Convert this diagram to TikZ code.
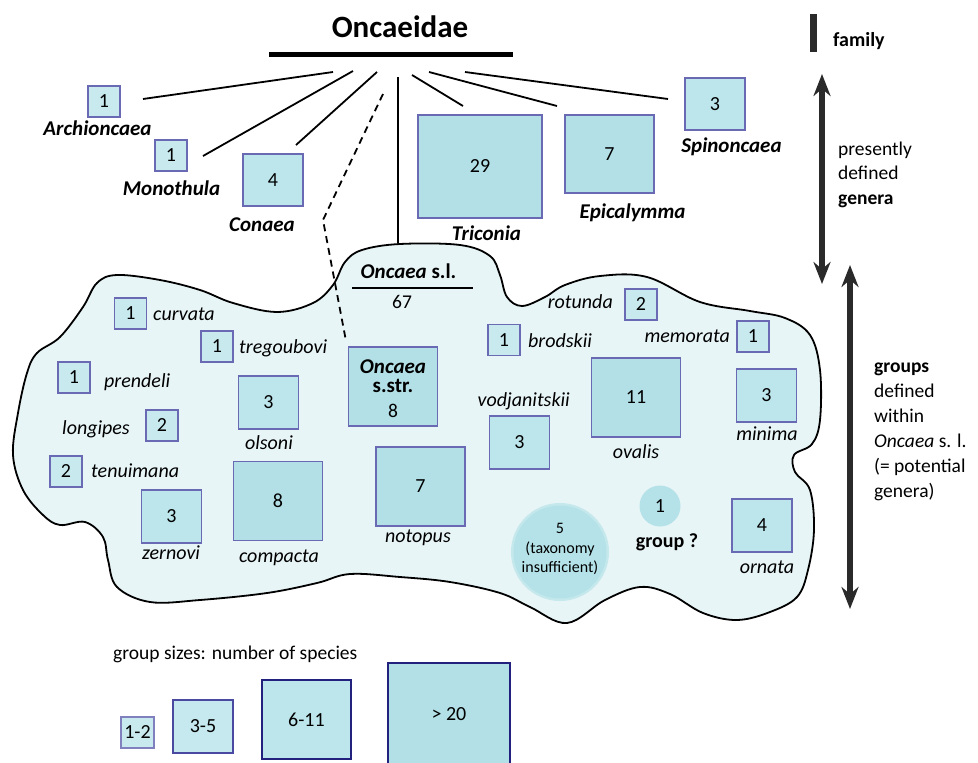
\documentclass[tikz,border=0pt]{standalone}
\usepackage{fontspec}
\setmainfont{Carlito}
\usetikzlibrary{arrows.meta}

\definecolor{blobfill}{HTML}{E8F5F7}
\definecolor{fillA}{HTML}{C8EAEF}
\definecolor{fillB}{HTML}{BDE6EC}
\definecolor{fillC}{HTML}{B2E0E6}
\definecolor{boxline}{HTML}{6A6AB4}
\definecolor{legline}{HTML}{4A4AA0}
\definecolor{navyline}{HTML}{22227E}
\definecolor{darrow}{HTML}{2A2A2A}
\definecolor{circfill}{HTML}{B4E2E8}

\tikzset{
  grp/.style={draw=boxline, line width=1.5pt, inner sep=0pt, font=\fontsize{20}{24}\selectfont},
  sa/.style={grp, fill=fillA, minimum width=32, minimum height=31},
  sb/.style={grp, fill=fillB, minimum width=60, minimum height=53},
  sc/.style={grp, fill=fillC, minimum width=89, minimum height=79},
  sd/.style={grp, fill=fillC, minimum width=124, minimum height=103},
  genus/.style={font=\fontsize{21}{24}\selectfont\bfseries\itshape, inner sep=0pt, anchor=base},
  spec/.style={font=\fontsize{20}{24}\selectfont\itshape, inner sep=0pt},
  txt/.style={font=\fontsize{19.5}{24}\selectfont, inner sep=0pt, anchor=base west},
  branch/.style={line width=1.8pt},
  scalearrow/.style={line width=6pt, draw=darrow, {Stealth[length=22pt,width=17pt]}-{Stealth[length=22pt,width=17pt]}},
}

\begin{document}
\begin{tikzpicture}[x=1pt, y=-1pt]
    \useasboundingbox (0,0) rectangle (978,763);

    % the Oncaea s.l. area
    \draw[fill=blobfill, line width=1.8pt] plot[smooth cycle, tension=0.6] coordinates {
        (97,283) (117,275) (160,280) (200,290) (233,303) (277,312) (313,303)
        (333,285) (345,262) (362,250) (400,244) (460,245) (490,256) (500,275)
        (507,297) (522,306) (545,297) (565,285) (600,276) (647,277) (700,302)
        (750,311) (785,318) (810,335) (820,370) (820,420) (812,444) (794,455)
        (795,472) (810,490) (814,530) (808,570) (797,597) (770,612) (737,620)
        (703,613) (670,594) (640,587) (605,600) (567,623) (530,607) (500,593)
        (450,582) (400,577) (350,574) (317,583) (267,593) (200,600) (150,602)
        (117,587) (108,560) (103,537) (85,522) (60,525) (43,515) (23,490)
        (13,455) (18,413) (27,373) (37,353) (60,337) (83,307)};

    % family
    \node[font=\fontsize{31}{34}\selectfont\bfseries, inner sep=0pt, anchor=base] (fam) at (400,37) {Oncaeidae};
    \coordinate (barL) at (269,54);
    \coordinate (barR) at (513,54);
    \draw[line width=5pt] (barL) -- (barR);

    % presently defined genera
    \node[sa] (arch) at (104,101.5) {1};
    \node[genus] (archL) at (97.5,135) {Archioncaea};
    \node[sa] (mono) at (171,155.5) {1};
    \node[genus] (monoL) at (171.5,195) {Monothula};
    \node[sb, minimum height=52] (con) at (273,180) {4};
    \node[genus] (conL) at (262,231) {Conaea};
    \node[sd] (tric) at (480,166.5) {29};
    \node[genus] (tricL) at (486.5,240) {Triconia};
    \node[sc, minimum height=78] (epic) at (609.5,154) {7};
    \node[genus] (epicL) at (632.5,218) {Epicalymma};
    \node[sb, minimum height=52] (spin) at (715,104) {3};
    \node[genus] (spinL) at (731.5,152) {Spinoncaea};

    % branches
    \coordinate (a1) at (333,72);  \coordinate (a2) at (143,99);
    \coordinate (m1) at (353,71);  \coordinate (m2) at (203,156);
    \coordinate (c1) at (377,72);  \coordinate (c2) at (296,145);
    \coordinate (v1) at (398,77);  \coordinate (v2) at (398,243);
    \coordinate (t1) at (412,75);  \coordinate (t2) at (463,106);
    \coordinate (e1) at (429,72);  \coordinate (e2) at (557,106);
    \coordinate (s1) at (465,72);  \coordinate (s2) at (668,99);
    \draw[branch] (a1) -- (a2);
    \draw[branch] (m1) -- (m2);
    \draw[branch] (c1) -- (c2);
    \draw[branch] (v1) -- (v2);
    \draw[branch] (t1) -- (t2);
    \draw[branch] (e1) -- (e2);
    \draw[branch] (s1) -- (s2);
    \coordinate (d1) at (383,94);
    \coordinate (d2) at (323,220);
    \coordinate (d3) at (346,341);
    \draw[branch, dashed, dash pattern=on 7pt off 5pt] (d1) -- (d2) -- (d3);

    % Oncaea s.l.
    \node[font=\fontsize{21}{24}\selectfont\bfseries, inner sep=0pt, anchor=base] (osl) at (408.5,278) {\textit{Oncaea} s.l.};
    \coordinate (oslL) at (352,288);
    \coordinate (oslR) at (473,288);
    \draw[line width=2.5pt] (oslL) -- (oslR);
    \node[txt, anchor=base] (osln) at (402,308) {67};

    % groups, left part
    \node[sa] (curv) at (130.5,313.5) {1};
    \node[spec, anchor=base west] (curvL) at (153,320) {curvata};
    \node[sa] (treg) at (217,346.5) {1};
    \node[spec, anchor=base west] (tregL) at (239,353) {tregoubovi};
    \node[sa] (pren) at (74,377.5) {1};
    \node[spec, anchor=base west] (prenL) at (104,387) {prendeli};
    \node[sa] (long) at (162,425.5) {2};
    \node[spec, anchor=base east] (longL) at (130,434) {longipes};
    \node[sa] (tenu) at (66,471.5) {2};
    \node[spec, anchor=base west] (tenuL) at (91,477) {tenuimana};
    \node[sb] (olso) at (268.5,402.5) {3};
    \node[spec, anchor=base] (olsoL) at (269,449) {olsoni};
    \node[sb] (zern) at (171.5,516.5) {3};
    \node[spec, anchor=base] (zernL) at (171,559) {zernovi};
    \node[sc] (comp) at (278,501) {8};
    \node[spec, anchor=base] (compL) at (279,562) {compacta};

    % Oncaea s.str.
    \node[sc] (ostr) at (393,386.5) {};
    \node[genus] (ostrA) at (393,373) {Oncaea};
    \node[genus, font=\fontsize{21}{24}\selectfont\bfseries] (ostrB) at (393,392) {s.str.};
    \node[txt, anchor=base] (ostrC) at (393,417) {8};
    \node[sc] (noto) at (420.5,486.5) {7};
    \node[spec, anchor=base] (notoL) at (418,542) {notopus};

    % groups, right part
    \node[sa] (brod) at (504,340) {1};
    \node[spec, anchor=base west] (brodL) at (528,347) {brodskii};
    \node[sa] (rotu) at (641,304.5) {2};
    \node[spec, anchor=base east] (rotuL) at (613,308) {rotunda};
    \node[sa] (memo) at (753,336.5) {1};
    \node[spec, anchor=base east] (memoL) at (730,342) {memorata};
    \node[sb] (vodj) at (519.5,442.5) {3};
    \node[spec, anchor=base east] (vodjL) at (570,406) {vodjanitskii};
    \node[sc] (oval) at (636,397.5) {11};
    \node[spec, anchor=base] (ovalL) at (636,458) {ovalis};
    \node[sb] (mini) at (766.5,395.5) {3};
    \node[spec, anchor=base] (miniL) at (767,440) {minima};
    \node[sb] (orna) at (762,525.5) {4};
    \node[spec, anchor=base] (ornaL) at (767,573) {ornata};

    % unresolved
    \node[circle, fill=circfill!70!blobfill, minimum size=98, inner sep=0pt] (halo) at (560,552) {};
    \node[circle, fill=circfill, minimum size=93, inner sep=0pt] (circA) at (560,552) {};
    \node[font=\fontsize{16}{19.5}\selectfont, align=center, inner sep=0pt] (circAL) at (560,549) {5\\(taxonomy\\insufficient)};
    \node[circle, fill=circfill, minimum size=41, inner sep=0pt, font=\fontsize{20}{24}\selectfont] (circB) at (660,506) {1};
    \node[font=\fontsize{20}{24}\selectfont\bfseries, inner sep=0pt, anchor=base] (circBL) at (667,547) {group ?};

    % scale on the right
    \coordinate (f1) at (813,14);
    \coordinate (f2) at (813,52);
    \draw[line width=7pt, darrow] (f1) -- (f2);
    \node[txt, font=\fontsize{20}{24}\selectfont\bfseries] (famL) at (833,46) {family};
    \coordinate (g1) at (822,74);
    \coordinate (g2) at (822,284);
    \draw[scalearrow] (g1) -- (g2);
    \node[txt] (gen1) at (838,155) {presently};
    \node[txt] (gen2) at (838,179.5) {defined};
    \node[txt, font=\fontsize{19.5}{24}\selectfont\bfseries] (gen3) at (838,204) {genera};
    \coordinate (p1) at (850,265);
    \coordinate (p2) at (850,609);
    \draw[scalearrow] (p1) -- (p2);
    \node[txt, font=\fontsize{19.5}{24}\selectfont\bfseries] (grp1) at (874,372) {groups};
    \node[txt] (grp2) at (874,397) {defined};
    \node[txt] (grp3) at (874,422) {within};
    \node[txt] (grp4) at (874,447) {\textit{Oncaea} s. l.};
    \node[txt] (grp5) at (874,472) {(= potential};
    \node[txt] (grp6) at (874,497) {genera)};

    % legend
    \node[txt] (legT) at (113,659) {group sizes: number of species};
    \node[sa, minimum width=33, draw=boxline!85, fill=fillA] (leg1) at (137.5,732.5) {1-2};
    \node[sb, draw=legline, fill=fillA!70!fillB] (leg2) at (203,726.5) {3-5};
    \node[sc, draw=navyline, fill=fillB] (leg3) at (306.5,719.5) {6-11};
    \node[sd, minimum width=122, draw=navyline] (leg4) at (449,714.5) {> 20};
\end{tikzpicture}
\end{document}
